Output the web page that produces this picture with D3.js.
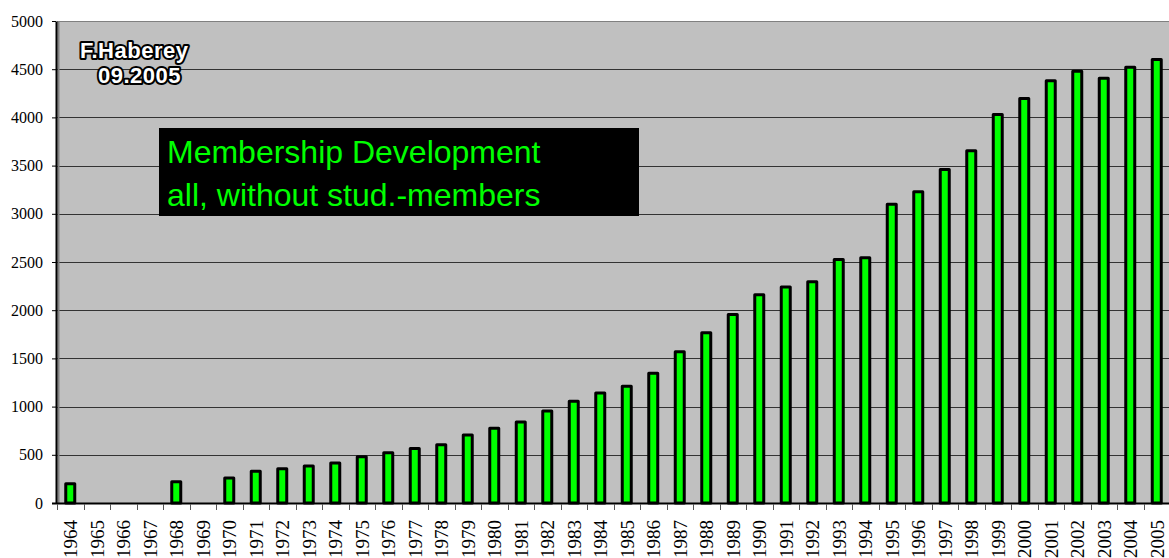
<!DOCTYPE html>
<html>
<head>
<meta charset="utf-8">
<script src="https://cdn.jsdelivr.net/npm/d3@7"></script>
<style>
  body { margin: 0; background: #fff; }
</style>
</head>
<body>
<div id="chart"></div>
<script>
const width = 1169;
const height = 558;

// membership counts per year (gaps = no data)
const years = d3.range(1964, 2006).map(String);
const members = [
    200, null, null, null, 220, null, 260, 330, 355, 385,
    415, 480, 520, 565, 605, 705, 775, 840, 955, 1055,
    1140, 1210, 1345, 1570, 1765, 1955, 2160, 2240, 2295, 2525,
    2545, 3100, 3230, 3460, 3655, 4030, 4195, 4380, 4480, 4405,
    4520, 4600
];
const yTicks = [0, 500, 1000, 1500, 2000, 2500, 3000, 3500, 4000, 4500, 5000];
const titleLines = ["Membership Development", "all, without stud.-members"];
const authorLines = ["F.Haberey", "09.2005"];

const margin = { top: 21, right: -1, bottom: 55, left: 57 };
const serif = "Liberation Serif, Times New Roman, serif";
const sans = "Liberation Sans, Arial, sans-serif";

const svg = d3.select("#chart")
    .append("svg")
    .attr("width", width)
    .attr("height", height)
    .attr("viewBox", [0, 0, width, height]);

const x = d3.scaleBand()
    .domain(years)
    .range([margin.left, width - margin.right])
    .padding(0);

const y = d3.scaleLinear()
    .domain([0, 5000])
    .range([height - margin.bottom, margin.top]);

// plot background
svg.append("rect")
    .attr("x", margin.left)
    .attr("y", margin.top)
    .attr("width", width - margin.right - margin.left)
    .attr("height", y(0) - margin.top)
    .attr("fill", "#c0c0c0");

// gridlines
svg.append("g")
    .selectAll("line")
    .data(yTicks.slice(1))
    .join("line")
    .attr("x1", margin.left)
    .attr("x2", width)
    .attr("y1", d => Math.round(y(d)) + 0.5)
    .attr("y2", d => Math.round(y(d)) + 0.5)
    .attr("stroke", d => d === 5000 ? "#808080" : "#333")
    .attr("stroke-width", 1);

// inner gray border of the plot on the left
svg.append("line")
    .attr("x1", margin.left + 1.5).attr("x2", margin.left + 1.5)
    .attr("y1", margin.top).attr("y2", y(0))
    .attr("stroke", "#808080")
    .attr("stroke-width", 2);

// bars
const barW = 9;
svg.append("g")
    .selectAll("rect")
    .data(years.map((yr, i) => ({ yr, v: members[i] })).filter(d => d.v != null))
    .join("rect")
    .attr("x", d => x(d.yr) + x.bandwidth() / 2 - barW / 2)
    .attr("y", d => y(d.v))
    .attr("width", barW)
    .attr("height", d => y(0) - y(d.v))
    .attr("fill", "#00ff00")
    .attr("stroke", "#000")
    .attr("stroke-width", 3)
    .attr("stroke-linejoin", "round");

// y axis
const yAxis = svg.append("g")
    .attr("transform", `translate(${margin.left - 1},0)`)
    .call(d3.axisLeft(y)
        .tickValues(yTicks)
        .tickFormat(d3.format("d"))
        .tickSize(4)
        .tickPadding(9)
        .tickSizeOuter(0));
yAxis.attr("font-family", null).attr("font-size", null);
yAxis.select(".domain").attr("stroke", "#000").attr("stroke-width", 2);
yAxis.selectAll(".tick line").attr("stroke", "#000");
yAxis.selectAll("text")
    .style("font-family", serif)
    .style("font-size", "16px")
    .attr("fill", "#000");

// x axis baseline
svg.append("line")
    .attr("x1", margin.left - 5)
    .attr("x2", width)
    .attr("y1", Math.round(y(0)) + 0.5)
    .attr("y2", Math.round(y(0)) + 0.5)
    .attr("stroke", "#000")
    .attr("stroke-width", 2);

// x ticks at category boundaries
svg.append("g")
    .selectAll("line")
    .data(years)
    .join("line")
    .attr("x1", d => Math.round(x(d)) + 0.5)
    .attr("x2", d => Math.round(x(d)) + 0.5)
    .attr("y1", y(0) + 1)
    .attr("y2", y(0) + 7)
    .attr("stroke", "#555");

// x labels, rotated
svg.append("g")
    .selectAll("text")
    .data(years)
    .join("text")
    .attr("transform", d => `translate(${x(d) + x.bandwidth() / 2 + 7},${y(0) + 17}) rotate(-90)`)
    .attr("text-anchor", "end")
    .style("font-family", serif)
    .style("font-size", "19px")
    .attr("fill", "#000")
    .text(d => d);

// title box
svg.append("rect")
    .attr("x", 159)
    .attr("y", 128)
    .attr("width", 480)
    .attr("height", 88)
    .attr("fill", "#000");

svg.append("g")
    .selectAll("text")
    .data(titleLines)
    .join("text")
    .attr("x", 167)
    .attr("y", (d, i) => 163 + i * 43)
    .style("font-family", sans)
    .style("font-size", "32px")
    .attr("fill", "#00ff00")
    .text(d => d);

// author stamp (outlined text)
svg.append("g")
    .selectAll("text")
    .data(authorLines)
    .join("text")
    .attr("x", (d, i) => i === 0 ? 80 : 98)
    .attr("y", (d, i) => 58 + i * 25)
    .style("font-family", sans)
    .style("font-weight", "bold")
    .style("font-size", "22px")
    .style("letter-spacing", "0.5px")
    .attr("fill", "#fff")
    .attr("stroke", "#000")
    .attr("stroke-width", 4)
    .attr("paint-order", "stroke")
    .attr("stroke-linejoin", "round")
    .text(d => d);
</script>
</body>
</html>
